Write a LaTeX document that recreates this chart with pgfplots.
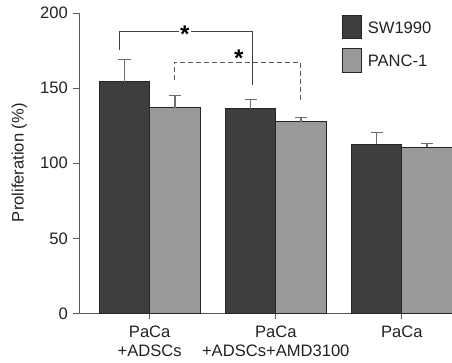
\documentclass[border=0pt]{standalone}
\usepackage{pgfplots}
\pgfplotsset{compat=1.18}
\usepackage{fontspec}
\setmainfont{Liberation Sans}
\definecolor{darkbar}{HTML}{3E3E3E}
\definecolor{lightbar}{HTML}{9A9A9A}
\definecolor{axisgray}{HTML}{5A5A5A}
\definecolor{errgray}{HTML}{6E6E6E}
\definecolor{txt}{HTML}{222222}
\begin{document}
\begin{tikzpicture}
\useasboundingbox (-79pt,-49pt) rectangle (371pt,312pt);
\begin{axis}[
  at={(0,0)}, anchor=south west,
  scale only axis, width=371pt, height=299pt,
  xmin=-0.558, xmax=2.398, ymin=0, ymax=200,
  ybar=0pt, bar width=0.4,
  axis lines=left, axis line style={-, color=axisgray, line width=1pt},
  tick align=outside, major tick length=6pt,
  tick style={color=axisgray, line width=1pt},
  xtick={0,1,2},
  xticklabels={{PaCa\\+ADSCs},{PaCa\\+ADSCs+AMD3100},{PaCa}},
  xticklabel style={align=center, font=\fontsize{16.5}{18.5}\selectfont, text=txt, yshift=-3pt},
  ytick={0,50,100,150,200},
  yticklabel style={font=\fontsize{16.5}{18.5}\selectfont, text=txt, xshift=-2pt},
  /pgf/number format/assume math mode=true,
  ylabel={Proliferation (\%)},
  ylabel style={at={(axis description cs:-0.161,0.502)}, anchor=center, rotate=0, font=\fontsize{16.5}{18.5}\selectfont, text=txt},
  clip=false,
  legend style={draw=none, fill=none, at={(axis description cs:0.7035,0.9933)}, anchor=north west,
    inner sep=0pt, row sep=9pt, column sep=6pt, font=\fontsize{16.5}{18.5}\selectfont, text=txt,
    nodes={inner sep=0pt, anchor=base west}},
  legend cell align=left,
  legend image code/.code={\draw[#1, line width=1pt] (0pt,-5.6pt) rectangle (19pt,17.4pt);},
]
\addplot[fill=darkbar, draw=black!85, line width=1pt,
  error bars/.cd, y dir=plus, y explicit,
  error bar style={color=errgray, line width=1.2pt},
  error mark options={rotate=90, mark size=6pt, color=errgray, line width=1.2pt}]
  coordinates {(0,154.2) +- (0,15) (1,136.2) +- (0,6) (2,112.7) +- (0,8)};
\addlegendentry{SW1990}
\addplot[fill=lightbar, draw=black!85, line width=1pt,
  error bars/.cd, y dir=plus, y explicit,
  error bar style={color=errgray, line width=1.2pt},
  error mark options={rotate=90, mark size=6pt, color=errgray, line width=1.2pt}]
  coordinates {(0,137.1) +- (0,8.2) (1,127.5) +- (0,3.2) (2,110.7) +- (0,2.6)};
\addlegendentry{PANC-1}
\draw[color=black!75, line width=1pt] (axis cs:-0.237,175.3) -- (axis cs:-0.237,187.5) -- (axis cs:0.818,187.5) -- (axis cs:0.818,152);
\draw[color=black!65, line width=1pt, dash pattern=on 5pt off 3pt] (axis cs:0.194,155.3) -- (axis cs:0.194,167.3) -- (axis cs:1.195,167.3) -- (axis cs:1.195,141.8);
\node[fill=white, inner sep=1pt, font=\bfseries\fontsize{24}{24}\selectfont] at (axis cs:0.279,186) {\raisebox{-6pt}{*}};
\node[inner sep=0pt, font=\bfseries\fontsize{24}{24}\selectfont] at (axis cs:0.707,170) {\raisebox{-6pt}{*}};
\end{axis}
\end{tikzpicture}
\end{document}
